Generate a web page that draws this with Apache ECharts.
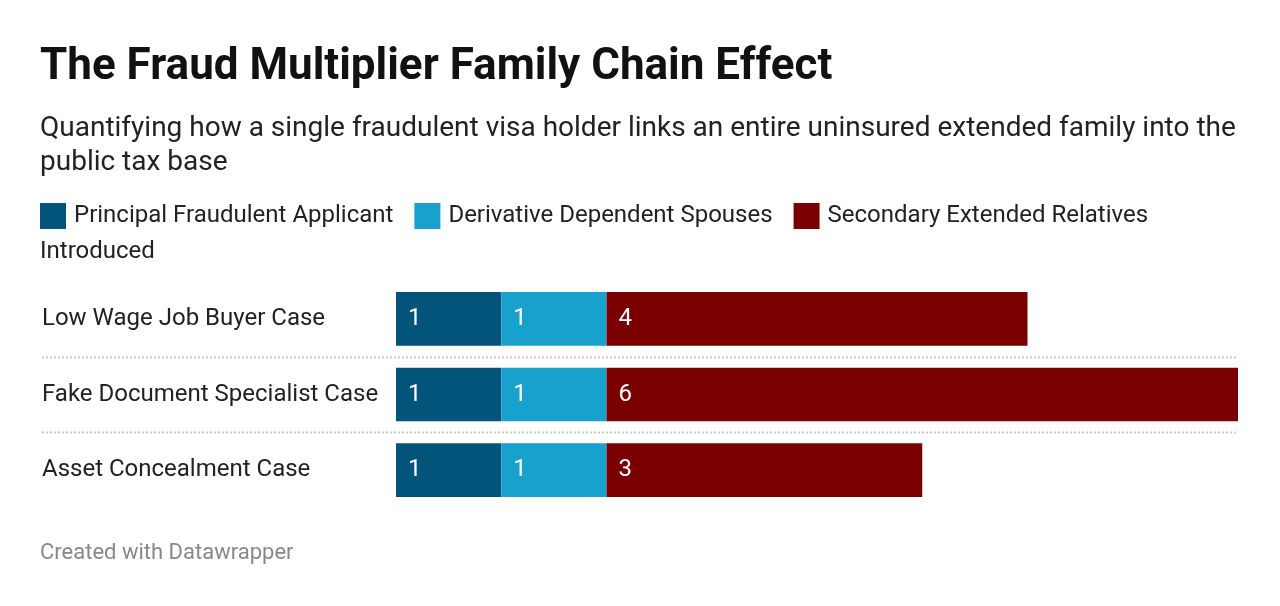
<!DOCTYPE html>
<html>
<head>
<meta charset="utf-8">
<script src="https://cdn.jsdelivr.net/npm/echarts@6/dist/echarts.min.js"></script>
<style>
  html, body { margin: 0; padding: 0; background: #fff; }
  #chart { width: 1280px; height: 606px; }
</style>
</head>
<body>
<div id="chart"></div>
<script>
var cases = ['Low Wage Job Buyer Case', 'Fake Document Specialist Case', 'Asset Concealment Case'];
var seriesNames = ['Principal Fraudulent Applicant', 'Derivative Dependent Spouses', 'Secondary Extended Relatives Introduced'];
var principal = [1, 1, 1];
var spouses = [1, 1, 1];
var relatives = [4, 6, 3];
var colors = ['#02547a', '#19a1cd', '#7a0000'];

var font = 'Roboto, "Noto Sans", sans-serif';

function makeSeries(name, values, idx) {
  return {
    name: name,
    type: 'bar',
    stack: 'total',
    barCategoryGap: '29%',
    data: values,
    itemStyle: { color: colors[idx] },
    label: {
      show: true,
      position: 'insideLeft',
      distance: 12,
      color: '#fff',
      fontSize: 24,
      fontFamily: font
    },
    emphasis: { disabled: true }
  };
}

var chart = echarts.init(document.getElementById('chart'));

var option = {
  backgroundColor: '#fff',
  animation: false,
  title: [{
    text: 'The Fraud Multiplier Family Chain Effect',
    left: 40,
    top: 46,
    padding: 0,
    textStyle: { fontSize: 44, fontWeight: 'bold', color: '#111', fontFamily: font }
  }, {
    text: 'Quantifying how a single fraudulent visa holder links an entire uninsured extended family into the\npublic tax base',
    left: 40,
    top: 112,
    padding: 0,
    textStyle: { fontSize: 28, fontWeight: 'normal', color: '#222', lineHeight: 34, fontFamily: font }
  }, {
    text: 'Created with Datawrapper',
    left: 40,
    top: 542,
    padding: 0,
    textStyle: { fontSize: 22, fontWeight: 'normal', color: '#888', fontFamily: font }
  }],
  legend: {
    left: 40,
    top: 203,
    icon: 'rect',
    itemWidth: 26,
    itemHeight: 26,
    itemGap: 21,
    padding: 0,
    data: seriesNames,
    formatter: function (name) {
      return name === seriesNames[2] ? 'Secondary Extended Relatives' : name;
    },
    textStyle: { fontSize: 24, color: '#222', fontFamily: font, padding: [4, 0, 0, 3] },
    selectedMode: false
  },
  grid: { left: 396, right: 42, top: 281, bottom: 98, containLabel: false },
  xAxis: {
    type: 'value',
    min: 0,
    max: 8,
    show: false
  },
  yAxis: {
    type: 'category',
    data: cases,
    inverse: true,
    axisLine: { show: false },
    axisTick: { show: false },
    splitLine: { show: false },
    axisLabel: {
      align: 'left',
      margin: 354,
      fontSize: 24,
      color: '#222',
      fontFamily: font
    }
  },
  series: [
    makeSeries(seriesNames[0], principal, 0),
    makeSeries(seriesNames[1], spouses, 1),
    makeSeries(seriesNames[2], relatives, 2)
  ]
};

chart.setOption(option);

// wrapped tail of the third legend label, plus dotted row separators
var graphics = [{
  type: 'text',
  left: 40,
  top: 240,
  style: { text: 'Introduced', fontSize: 24, fill: '#222', fontFamily: font }
}];
var xLeft = 42;
var xRight = chart.convertToPixel({ xAxisIndex: 0 }, 8);
for (var i = 0; i < cases.length - 1; i++) {
  var y1 = chart.convertToPixel({ yAxisIndex: 0 }, cases[i]);
  var y2 = chart.convertToPixel({ yAxisIndex: 0 }, cases[i + 1]);
  var ym = Math.round((y1 + y2) / 2) + 0.5;
  graphics.push({
    type: 'line',
    shape: { x1: xLeft, y1: ym, x2: xRight, y2: ym },
    style: { stroke: '#cccccc', lineWidth: 2, lineDash: [2, 2] },
    silent: true
  });
}
chart.setOption({ graphic: graphics });
</script>
</body>
</html>
